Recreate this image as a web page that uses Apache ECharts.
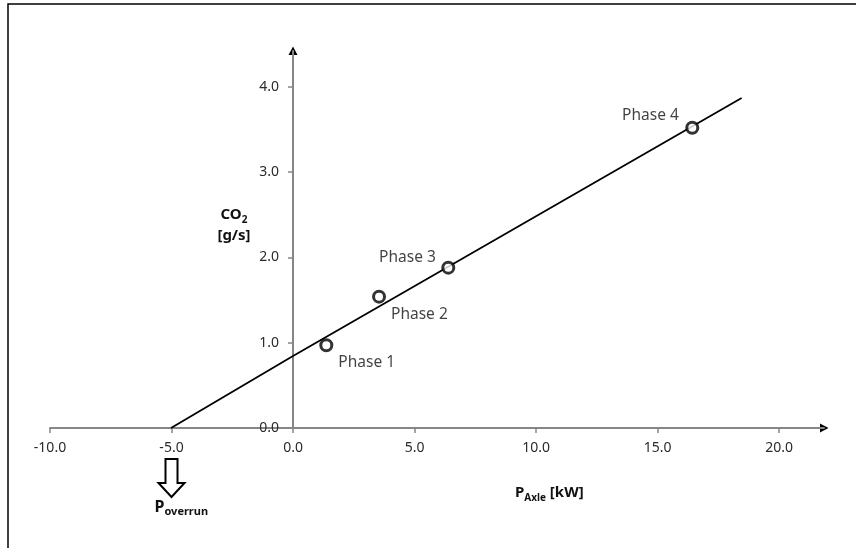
<!DOCTYPE html>
<html>
<head>
<meta charset="utf-8">
<script src="https://cdn.jsdelivr.net/npm/echarts@6/dist/echarts.min.js"></script>
<style>
  html, body { margin: 0; padding: 0; background: #fff; }
  #chart { width: 856px; height: 548px; }
</style>
</head>
<body>
<div id="chart"></div>
<script>
// Measured operating points per test phase
const phaseNames = ['Phase 1', 'Phase 2', 'Phase 3', 'Phase 4'];
const axlePower = [1.37, 3.54, 6.39, 16.43];   // kW
const co2Rate = [0.97, 1.54, 1.88, 3.52];      // g/s

// Linear fit through the phases, extended down to zero CO2
const fitPower = [-5.02, 0, 18.46];
const fitCo2 = [0, 0.845, 3.87];

// Axis ticks
const xTicks = [-10, -5, 0, 5, 10, 15, 20];
const yTicks = [0, 1, 2, 3, 4];

// Power at which CO2 output reaches zero
const overrunPower = -5.0;

const X_MIN = -10, X_MAX = 21.85;
const Y_MIN = 0, Y_MAX = 4.42;

const GRID = { left: 50, right: 32, top: 51, bottom: 120 };

const FONT = '"Noto Sans", "Open Sans", sans-serif';
const AXIS_GREY = '#868686';
const LABEL_COLOR = '#2b2b2b';
const TEXT_COLOR = '#111111';

// label placement around each phase marker
const labelStyles = [
  { position: 'right', distance: 5, offset: [0, 17] },
  { position: 'right', distance: 5, offset: [0, 18] },
  { position: 'left', distance: 5.5, offset: [0, -10] },
  { position: 'left', distance: 6.5, offset: [0, -12] }
];

const phaseData = axlePower.map((x, i) => ({
  value: [x, co2Rate[i]],
  name: phaseNames[i],
  label: labelStyles[i]
}));

const fitData = fitPower.map((x, i) => [x, fitCo2[i]]);

const fmt = v => v.toFixed(1);

const chart = echarts.init(document.getElementById('chart'), null, { renderer: 'canvas' });

const option = {
  animation: false,
  backgroundColor: '#ffffff',
  grid: GRID,
  xAxis: {
    type: 'value', min: X_MIN, max: X_MAX,
    axisLine: { show: true, onZero: false,
      lineStyle: { color: AXIS_GREY, width: 2 } },
    axisTick: { show: true, length: 5, inside: false, customValues: xTicks,
      lineStyle: { color: AXIS_GREY, width: 1.5 } },
    axisLabel: { show: true, customValues: xTicks, formatter: fmt, margin: 13,
      color: LABEL_COLOR, fontFamily: FONT, fontSize: 14 },
    splitLine: { show: false }
  },
  yAxis: {
    type: 'value', min: Y_MIN, max: Y_MAX,
    position: 'left',
    offset: 0,
    axisLine: { show: true, onZero: false,
      lineStyle: { color: AXIS_GREY, width: 2 } },
    axisTick: { show: true, length: 5, inside: false, customValues: yTicks,
      lineStyle: { color: AXIS_GREY, width: 1.5 } },
    axisLabel: { show: true, customValues: yTicks, formatter: fmt, margin: 14,
      color: LABEL_COLOR, fontFamily: FONT, fontSize: 14 },
    splitLine: { show: false }
  },
  series: [
    {
      name: 'fit',
      type: 'line',
      data: fitData,
      showSymbol: false,
      symbol: 'none',
      lineStyle: { color: '#000000', width: 1.8 },
      silent: true,
      z: 2
    },
    {
      name: 'phases',
      type: 'scatter',
      data: phaseData,
      symbol: 'circle',
      symbolSize: 11,
      itemStyle: { color: '#ffffff', borderColor: '#000000', borderWidth: 3 },
      label: {
        show: true,
        formatter: p => p.name,
        color: TEXT_COLOR,
        fontFamily: FONT,
        fontSize: 15.5
      },
      z: 3
    }
  ]
};

chart.setOption(option);

// Move the vertical axis so that it crosses the horizontal one at zero power
const zeroX = chart.convertToPixel({ xAxisIndex: 0 }, 0);
chart.setOption({ yAxis: { offset: -(zeroX - GRID.left) } });

// Annotations placed relative to the axes
const xOver = chart.convertToPixel({ xAxisIndex: 0 }, overrunPower);
const xEnd = chart.convertToPixel({ xAxisIndex: 0, yAxisIndex: 0 }, [X_MAX, 0]);
const yEnd = chart.convertToPixel({ xAxisIndex: 0, yAxisIndex: 0 }, [0, Y_MAX]);

const subRich = (mainSize, subSize) => ({
  m: { fontFamily: FONT, fontWeight: 'bold', fontSize: mainSize, lineHeight: 20, fill: TEXT_COLOR },
  s: { fontFamily: FONT, fontWeight: 'bold', fontSize: subSize, lineHeight: 9, verticalAlign: 'bottom', fill: TEXT_COLOR }
});

chart.setOption({
  graphic: [
    {
      type: 'rect',
      shape: { x: 8, y: 4, width: 900, height: 600 },
      style: { fill: 'none', stroke: '#000000', lineWidth: 1.5 },
      silent: true
    },
    // arrow heads at the positive ends of both axes
    {
      type: 'polygon',
      shape: { points: [[xEnd[0] - 4, xEnd[1] - 4.5], [xEnd[0] + 4.5, xEnd[1]], [xEnd[0] - 4, xEnd[1] + 4.5]] },
      style: { fill: '#000000' }
    },
    {
      type: 'polygon',
      shape: { points: [[yEnd[0] - 4.5, yEnd[1] + 4], [yEnd[0], yEnd[1] - 4.5], [yEnd[0] + 4.5, yEnd[1] + 4]] },
      style: { fill: '#000000' }
    },
    {
      type: 'text',
      x: 234, y: 215,
      style: {
        text: '{m|CO}{s|2}',
        align: 'center', verticalAlign: 'middle',
        rich: subRich(15, 10)
      }
    },
    {
      type: 'text',
      x: 234, y: 236,
      style: {
        text: '[g/s]',
        align: 'center', verticalAlign: 'middle',
        fontFamily: FONT, fontWeight: 'bold', fontSize: 15, fill: TEXT_COLOR
      }
    },
    {
      type: 'text',
      x: 515, y: 493,
      style: {
        text: '{m|P}{s|Axle}{m| [kW]}',
        align: 'left', verticalAlign: 'middle',
        rich: subRich(15, 10)
      }
    },
    {
      type: 'polygon',
      shape: {
        points: [
          [xOver - 6, 459], [xOver + 6, 459], [xOver + 6, 483], [xOver + 13, 483],
          [xOver, 497], [xOver - 13, 483], [xOver - 6, 483]
        ]
      },
      style: { fill: '#ffffff', stroke: '#000000', lineWidth: 2, lineJoin: 'miter' }
    },
    {
      type: 'text',
      x: xOver - 17, y: 507,
      style: {
        text: '{m|P}{s|overrun}',
        align: 'left', verticalAlign: 'middle',
        rich: subRich(16, 11)
      }
    }
  ]
});
</script>
</body>
</html>
